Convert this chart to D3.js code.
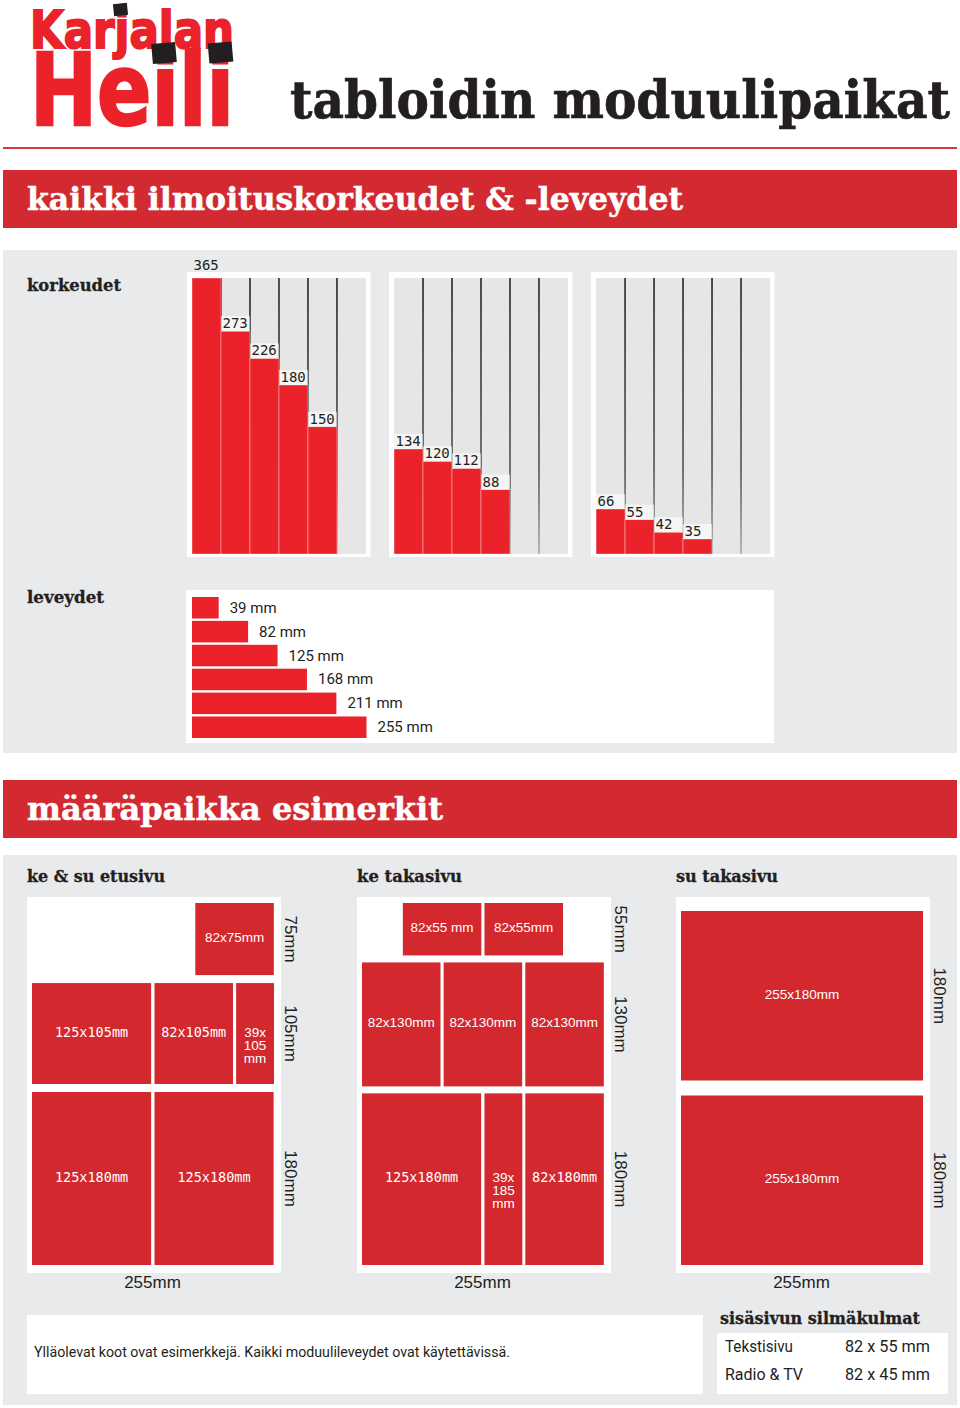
<!DOCTYPE html>
<html><head><meta charset="utf-8">
<script src="https://cdn.jsdelivr.net/npm/d3@7"></script>
<style>body{margin:0;background:#fff}svg{display:block}</style>
</head><body>
<svg id="c" width="960" height="1408"></svg>
<script>
// ---------- DATA ----------
const logoTop = "Karjalan";
const logoBottom = "Heili";
const pageTitle = "tabloidin moduulipaikat";
const section1Title = "kaikki ilmoituskorkeudet & -leveydet";
const section2Title = "määräpaikka esimerkit";
const heightsLabel = "korkeudet";
const widthsLabel = "leveydet";

const heightsGroup1 = [365, 273, 226, 180, 150];
const heightsGroup2 = [134, 120, 112, 88];
const heightsGroup3 = [66, 55, 42, 35];
const columnsPerPanel = 6;

const widthValues = [39, 82, 125, 168, 211, 255];
const widthUnit = " mm";

const pageWidthMM = 255;
const columnWidthMM = 39;

const etusivuTitle = "ke & su etusivu";
const etusivuRows = [75, 105, 180];
const etusivuModules = [
  {row: 0, col: 4, w: 82,  label: ["82x75mm"]},
  {row: 1, col: 0, w: 125, label: ["125x105mm"]},
  {row: 1, col: 3, w: 82,  label: ["82x105mm"]},
  {row: 1, col: 5, w: 39,  label: ["39x", "105", "mm"]},
  {row: 2, col: 0, w: 125, label: ["125x180mm"]},
  {row: 2, col: 3, w: 125, label: ["125x180mm"]}
];
const keTakasivuTitle = "ke takasivu";
const keTakasivuRows = [55, 130, 180];
const keTakasivuModules = [
  {row: 0, col: 1, w: 82,  label: ["82x55 mm"]},
  {row: 0, col: 3, w: 82,  label: ["82x55mm"]},
  {row: 1, col: 0, w: 82,  label: ["82x130mm"]},
  {row: 1, col: 2, w: 82,  label: ["82x130mm"]},
  {row: 1, col: 4, w: 82,  label: ["82x130mm"]},
  {row: 2, col: 0, w: 125, label: ["125x180mm"]},
  {row: 2, col: 3, w: 39,  label: ["39x", "185", "mm"]},
  {row: 2, col: 4, w: 82,  label: ["82x180mm"]}
];
const suTakasivuTitle = "su takasivu";
const suTakasivuRows = [180, 180];
const suTakasivuModules = [
  {row: 0, col: 0, w: 255, label: ["255x180mm"]},
  {row: 1, col: 0, w: 255, label: ["255x180mm"]}
];

const noteText = "Ylläolevat koot ovat esimerkkejä. Kaikki moduulileveydet ovat käytettävissä.";
const cornerTitle = "sisäsivun silmäkulmat";
const cornerNames = ["Tekstisivu", "Radio & TV"];
const cornerSizes = ["82 x 55 mm", "82 x 45 mm"];

// ---------- STYLE ----------
const RED_BANNER = "#d22a30", RED_BAR = "#ec222a", RED_MOD = "#d2282e";
const GRAY = "#e9eaec", INNER = "#e6e6e6", INK = "#231f20";
const SLAB = "'DejaVu Serif', serif";
const SANS = "Roboto, 'Liberation Sans', Arial, sans-serif";
const ARIAL = "'Liberation Sans', Arial, sans-serif";
const MONO = "'DejaVu Sans Mono', monospace";

const svg = d3.select("#c");
const defs = svg.append("defs");
const lg = defs.append("linearGradient").attr("id", "lineGrad")
  .attr("gradientUnits", "userSpaceOnUse").attr("x1", 0).attr("x2", 0).attr("y1", 278).attr("y2", 554);
lg.append("stop").attr("offset", "0%").attr("stop-color", "#262626");
lg.append("stop").attr("offset", "70%").attr("stop-color", "#555");
lg.append("stop").attr("offset", "100%").attr("stop-color", "#a8a8a8");

// ---------- HEADER ----------
const logo = svg.append("g");
logo.append("text").text(logoTop).attr("x", 30).attr("y", 48)
  .attr("font-family", "'DejaVu Sans', sans-serif").attr("font-weight", "bold").attr("font-size", 51)
  .attr("textLength", 204).attr("lengthAdjust", "spacingAndGlyphs")
  .attr("fill", RED_BAR).attr("stroke", RED_BAR).attr("stroke-width", 2);
logo.append("text").text(logoBottom).attr("x", 30).attr("y", 125)
  .attr("font-family", "'DejaVu Sans', sans-serif").attr("font-weight", "bold").attr("font-size", 100)
  .attr("textLength", 204).attr("lengthAdjust", "spacingAndGlyphs")
  .attr("fill", RED_BAR).attr("stroke", RED_BAR).attr("stroke-width", 2.5);
[[120.5, 9.5, 14, 12, -6], [164, 53, 24, 20, -5], [220.5, 52.5, 24, 20, -5]].forEach(([cx, cy, w, h, r]) => {
  logo.append("rect").attr("x", -w / 2).attr("y", -h / 2).attr("width", w).attr("height", h)
    .attr("fill", "#231f20").attr("transform", `translate(${cx},${cy}) rotate(${r})`);
});

svg.append("text").text(pageTitle).attr("x", 0).attr("y", 0)
  .attr("transform", "translate(290,118) scale(1,1.12)")
  .attr("font-family", SLAB).attr("font-weight", "bold").attr("font-size", 47)
  .attr("textLength", 660).attr("lengthAdjust", "spacingAndGlyphs").attr("fill", INK)
  .attr("stroke", INK).attr("stroke-width", 0.6);

svg.append("rect").attr("x", 3).attr("y", 147).attr("width", 954).attr("height", 2).attr("fill", "#d6383d");

function banner(y, txt, len) {
  svg.append("rect").attr("x", 3).attr("y", y).attr("width", 954).attr("height", 58).attr("fill", RED_BANNER);
  svg.append("text").text(txt).attr("x", 27).attr("y", y + 40)
    .attr("font-family", SLAB).attr("font-weight", "bold").attr("font-size", 32)
    .attr("textLength", len).attr("lengthAdjust", "spacingAndGlyphs").attr("fill", "#fff")
    .attr("stroke", "#fff").attr("stroke-width", 0.5);
}
banner(170, section1Title, 656);
banner(780, section2Title, 416);

function slabLabel(x, y, txt, len) {
  svg.append("text").text(txt).attr("x", x).attr("y", y)
    .attr("font-family", SLAB).attr("font-weight", "bold").attr("font-size", 16)
    .attr("textLength", len).attr("lengthAdjust", "spacingAndGlyphs").attr("fill", INK)
    .attr("stroke", INK).attr("stroke-width", 0.3);
}

// ---------- SECTION 1 ----------
svg.append("rect").attr("x", 3).attr("y", 250).attr("width", 954).attr("height", 503).attr("fill", GRAY);
slabLabel(27, 291, heightsLabel, 94);
slabLabel(27, 603, widthsLabel, 77);

const innerTop = 278, innerBottom = 554;
const yH = d3.scaleLinear().domain([0, 35, 66, 134, 180, 365])
  .range([innerBottom, 539, 509, 449, 385, innerTop]);
const groups = [heightsGroup1, heightsGroup2, heightsGroup3];
const panelBand = d3.scaleBand().domain(d3.range(groups.length)).range([187, 774.5]).paddingInner(0.092);

groups.forEach((vals, gi) => {
  const px = panelBand(gi), pw = panelBand.bandwidth();
  const g = svg.append("g");
  g.append("rect").attr("x", px).attr("y", 272).attr("width", pw).attr("height", 285).attr("fill", "#fff");
  const col = d3.scaleBand().domain(d3.range(columnsPerPanel)).range([px + 5, px + pw - 4.5]);
  g.append("rect").attr("x", col.range()[0]).attr("y", innerTop)
    .attr("width", col.range()[1] - col.range()[0]).attr("height", innerBottom - innerTop).attr("fill", INNER);
  g.selectAll("rect.sep").data(d3.range(1, columnsPerPanel)).join("rect").attr("class", "sep")
    .attr("x", d => col(d) - 0.8).attr("y", innerTop).attr("width", 1.6).attr("height", innerBottom - innerTop)
    .attr("fill", "url(#lineGrad)");
  g.selectAll("rect.bar").data(vals).join("rect").attr("class", "bar")
    .attr("x", (d, i) => col(i)).attr("y", d => yH(d))
    .attr("width", col.bandwidth()).attr("height", d => innerBottom - yH(d))
    .attr("fill", RED_BAR).attr("stroke", "rgba(255,255,255,0.45)").attr("stroke-width", 0.8);
  vals.forEach((d, i) => {
    const top = yH(d);
    const inside = top - 15 >= innerTop;
    if (inside) {
      g.append("rect").attr("x", col(i)).attr("y", top - 15).attr("width", col.bandwidth()).attr("height", 15)
        .attr("fill", "#fff").attr("opacity", 0.6);
    }
    g.append("text").text(d).attr("x", col(i) + 1.5).attr("y", inside ? top - 3 : 270)
      .attr("font-family", MONO).attr("font-size", 14).attr("fill", INK);
  });
});

// widths
svg.append("rect").attr("x", 186).attr("y", 590).attr("width", 588).attr("height", 153).attr("fill", "#fff");
const xW = d3.scaleLinear().domain([0, pageWidthMM]).range([0, 174.5]);
const yW = d3.scaleBand().domain(d3.range(widthValues.length)).range([597, 738]).paddingInner(0.1);
const wg = svg.append("g");
wg.selectAll("rect").data(widthValues).join("rect")
  .attr("x", 192).attr("y", (d, i) => yW(i)).attr("width", d => xW(d)).attr("height", yW.bandwidth())
  .attr("fill", RED_BAR);
wg.selectAll("text").data(widthValues).join("text")
  .text(d => d + widthUnit)
  .attr("x", d => 192 + xW(d) + 11).attr("y", (d, i) => yW(i) + yW.bandwidth() / 2 + 5)
  .attr("font-family", SANS).attr("font-size", 15).attr("fill", INK);

// ---------- SECTION 2 ----------
svg.append("rect").attr("x", 3).attr("y", 855).attr("width", 954).attr("height", 550).attr("fill", GRAY);

const modulePanels = [
  {title: etusivuTitle, titleLen: 138, rows: etusivuRows, modules: etusivuModules, mono: [1, 2], left: 27, top: 903, gap: 8},
  {title: keTakasivuTitle, titleLen: 105, rows: keTakasivuRows, modules: keTakasivuModules, mono: [2], left: 357, top: 903, gap: 7},
  {title: suTakasivuTitle, titleLen: 102, rows: suTakasivuRows, modules: suTakasivuModules, mono: [], left: 676, top: 911, gap: 15}
];
const colStepMM = (pageWidthMM - columnWidthMM) / (columnsPerPanel - 1);
const bottomY = 1265;

modulePanels.forEach(p => {
  const g = svg.append("g");
  slabLabel(p.left, 882, p.title, p.titleLen);
  g.append("rect").attr("x", p.left).attr("y", 897).attr("width", 254).attr("height", 376).attr("fill", "#fff");
  const x = d3.scaleLinear().domain([0, pageWidthMM]).range([p.left + 5, p.left + 246]);
  const totalMM = d3.sum(p.rows);
  const avail = bottomY - p.top - p.gap * (p.rows.length - 1);
  const y = d3.scaleLinear().domain([0, totalMM]).range([0, avail]);
  const cum = d3.cumsum([0].concat(p.rows));
  const rowTop = i => p.top + y(cum[i]) + i * p.gap;
  const rowH = i => y(p.rows[i]);

  p.modules.forEach(m => {
    const x0 = x(m.col * colStepMM), x1 = x(m.col * colStepMM + m.w) + 1;
    const t = rowTop(m.row), h = rowH(m.row);
    g.append("rect").attr("x", x0).attr("y", t).attr("width", x1 - x0).attr("height", h).attr("fill", RED_MOD);
    const mono = p.mono.includes(m.row);
    const tx = g.append("text").attr("text-anchor", "middle")
      .attr("font-family", m.label.length > 1 ? ARIAL : (mono ? MONO : ARIAL))
      .attr("font-size", 13.5).attr("fill", "#fff");
    m.label.forEach((line, li) => {
      tx.append("tspan").text(line).attr("x", (x0 + x1) / 2).attr("y", t + h / 2 + 3 + li * 13);
    });
  });

  p.rows.forEach((r, i) => {
    const cy = rowTop(i) + rowH(i) / 2;
    g.append("text").text(r + "mm").attr("text-anchor", "middle")
      .attr("transform", `translate(${p.left + 258},${cy}) rotate(90)`)
      .attr("font-family", ARIAL).attr("font-size", 17).attr("fill", INK);
  });
  g.append("text").text(pageWidthMM + "mm").attr("text-anchor", "middle")
    .attr("x", (x(0) + x(pageWidthMM)) / 2).attr("y", 1288)
    .attr("font-family", ARIAL).attr("font-size", 17).attr("fill", INK);
});

// bottom notes
svg.append("rect").attr("x", 27).attr("y", 1315).attr("width", 676).attr("height", 79).attr("fill", "#fff");
svg.append("text").text(noteText).attr("x", 34).attr("y", 1357)
  .attr("font-family", SANS).attr("font-size", 14.5).attr("textLength", 476).attr("lengthAdjust", "spacingAndGlyphs")
  .attr("fill", INK);
slabLabel(720, 1324, cornerTitle, 200);
svg.append("rect").attr("x", 717).attr("y", 1333).attr("width", 231).attr("height", 61).attr("fill", "#fff");
cornerNames.forEach((n, i) => {
  svg.append("text").text(n).attr("x", 725).attr("y", 1352 + i * 28)
    .attr("font-family", SANS).attr("font-size", 16).attr("textLength", i === 0 ? 68 : 78)
    .attr("lengthAdjust", "spacingAndGlyphs").attr("fill", INK);
  svg.append("text").text(cornerSizes[i]).attr("x", 845).attr("y", 1352 + i * 28)
    .attr("font-family", SANS).attr("font-size", 16).attr("textLength", 85)
    .attr("lengthAdjust", "spacingAndGlyphs").attr("fill", INK);
});
</script>
</body></html>
